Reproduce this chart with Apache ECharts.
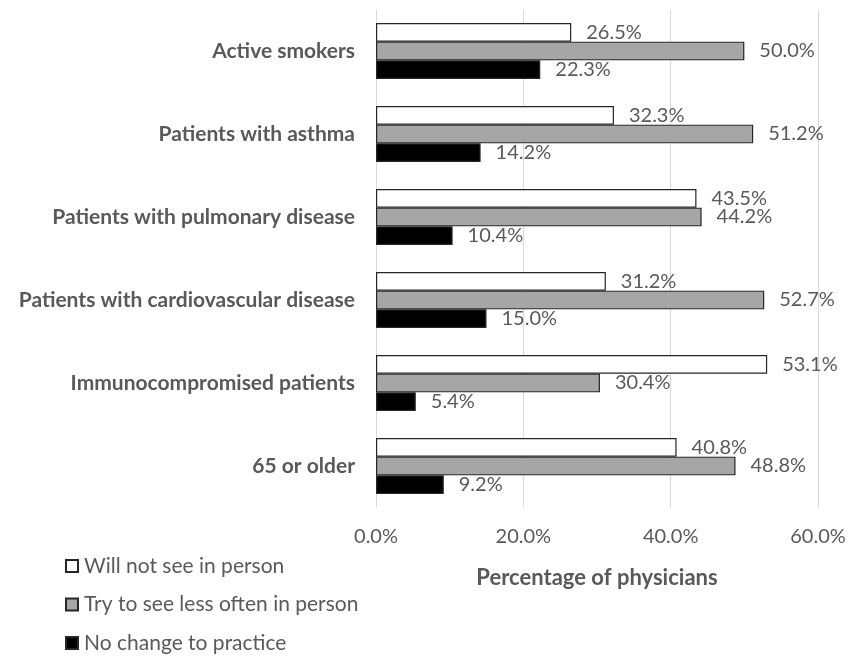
<!DOCTYPE html>
<html>
<head>
<meta charset="utf-8">
<script src="https://cdn.jsdelivr.net/npm/echarts@6/dist/echarts.min.js"></script>
<style>
  html, body { margin: 0; padding: 0; background: #ffffff; }
  #chart { width: 850px; height: 659px; }
</style>
</head>
<body>
<div id="chart"></div>
<script>
// Patient groups, listed top to bottom
const categories = [
  'Active smokers',
  'Patients with asthma',
  'Patients with pulmonary disease',
  'Patients with cardiovascular disease',
  'Immunocompromised patients',
  '65 or older'
];

// Share of physicians (%) for each response
const willNotSee = [26.5, 32.3, 43.5, 31.2, 53.1, 40.8];
const seeLessOften = [50.0, 51.2, 44.2, 52.7, 30.4, 48.8];
const noChange = [22.3, 14.2, 10.4, 15.0, 5.4, 9.2];

const seriesNames = [
  'Will not see in person',
  'Try to see less often in person',
  'No change to practice'
];

const axisTicks = [0, 20, 40, 60];
const axisTitle = 'Percentage of physicians';

const FONT = 'Lato, "Open Sans", sans-serif';
const TEXT = '#595959';

function barSeries(name, data, fill) {
  return {
    name: name,
    type: 'bar',
    data: data,
    barGap: '0%',
    barCategoryGap: '32.5%',
    itemStyle: { color: fill, borderColor: '#262626', borderWidth: 1.2 },
    label: {
      show: true,
      position: 'right',
      distance: 15,
      color: TEXT,
      fontFamily: FONT,
      fontSize: 20,
      formatter: p => p.value.toFixed(1) + '%'
    }
  };
}

const chart = echarts.init(document.getElementById('chart'), null, { renderer: 'canvas' });
chart.setOption({
  animation: false,
  backgroundColor: '#ffffff',
  textStyle: { fontFamily: FONT },
  grid: { left: 376, right: 32, top: 9.5, bottom: 151.5, containLabel: false },
  xAxis: {
    type: 'value',
    min: axisTicks[0],
    max: axisTicks[axisTicks.length - 1],
    interval: axisTicks[1] - axisTicks[0],
    axisLine: { show: false },
    axisTick: { show: false },
    splitLine: { show: true, lineStyle: { color: '#d9d9d9', width: 1 } },
    axisLabel: {
      color: TEXT,
      fontFamily: FONT,
      fontSize: 20,
      margin: 19,
      formatter: v => v.toFixed(1) + '%'
    },
    name: axisTitle,
    nameLocation: 'middle',
    nameGap: 59,
    nameTextStyle: { color: TEXT, fontFamily: FONT, fontSize: 22, fontWeight: 'bold' }
  },
  yAxis: {
    type: 'category',
    data: categories,
    inverse: true,
    axisLine: { show: false },
    axisTick: { show: false },
    axisLabel: {
      color: TEXT,
      fontFamily: FONT,
      fontSize: 21,
      fontWeight: 'bold',
      margin: 21
    }
  },
  legend: {
    orient: 'vertical',
    left: 65,
    top: 555,
    height: 104,
    padding: 0,
    itemWidth: 12,
    itemHeight: 12,
    itemGap: 16.5,
    icon: 'rect',
    textStyle: { color: TEXT, fontFamily: FONT, fontSize: 21, lineHeight: 22, padding: [0, 0, 0, 1] },
    data: seriesNames
  },
  series: [
    barSeries(seriesNames[0], willNotSee, '#ffffff'),
    barSeries(seriesNames[1], seeLessOften, '#a6a6a6'),
    barSeries(seriesNames[2], noChange, '#000000')
  ]
});
</script>
</body>
</html>
